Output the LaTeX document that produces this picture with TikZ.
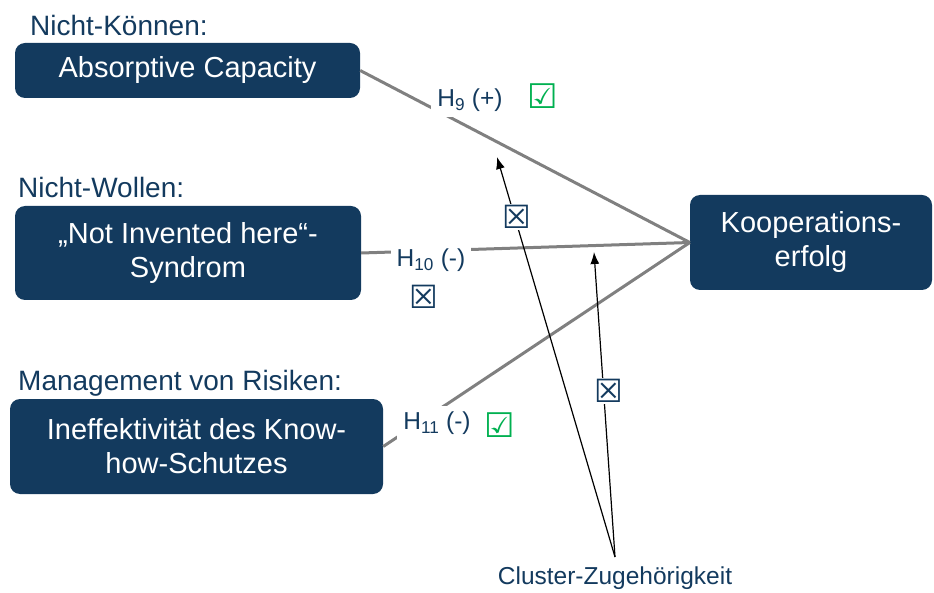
\documentclass[tikz,border=0pt]{standalone}
\usepackage{fontspec}
\setmainfont{Liberation Sans}
\newfontfamily\symfont{DejaVu Sans}
\usetikzlibrary{positioning, calc, arrows.meta}
\definecolor{navy}{HTML}{133A5E}
\definecolor{okgreen}{HTML}{00B050}
\tikzset{
  box/.style={fill=navy, rounded corners=10pt, text=white, align=center, inner sep=0pt, font=\fontsize{29}{34}\selectfont},
  head/.style={text=navy, anchor=west, inner sep=0pt, font=\fontsize{28}{32}\selectfont},
  hyp/.style={text=navy, fill=white, inner sep=6pt, font=\fontsize{24.5}{28}\selectfont},
  link/.style={draw=gray, line width=3pt},
  pointer/.style={draw=black, line width=1.2pt, -{Latex[length=12pt,width=9pt]}},
  nope/.style={text=navy, fill=white, inner sep=1pt, font=\symfont\fontsize{32}{36}\selectfont},
  yes/.style={text=okgreen, inner sep=0pt, font=\symfont\fontsize{34}{38}\selectfont}
}
\begin{document}
\begin{tikzpicture}[x=1pt, y=-1pt]
            \useasboundingbox (0,0) rectangle (934,593);
            % Konstrukte
            \node[head] (hkonn) at (30,25) {Nicht-Können:};
            \node[box, minimum width=345pt, minimum height=55pt] (absorb) at (187.5,70.5) {Absorptive Capacity};
            \node[head] (hwoll) at (18,187) {Nicht-Wollen:};
            \node[box, minimum width=346pt, minimum height=94pt] (nih) at (188,253) {„Not Invented here“-\\Syndrom};
            \node[head] (hrisk) at (18,383) {Management von Risiken:};
            \node[box, minimum width=373pt, minimum height=95pt] (ineff) at (196.5,446.5) {Ineffektivität des Know-\\how-Schutzes};
            \node[box, minimum width=242pt, minimum height=95pt] (koop) at (811,242.5) {Kooperations-\\erfolg};
            % Hypothesen
            \draw[link] (absorb.east) -- (koop.west);
            \draw[link] (nih.east) -- (koop.west);
            \draw[link] (ineff.east) -- (koop.west);
            \node[hyp] (h9) at (470,100) {H\textsubscript{9} (+)};
            \node[yes] (ok9) at (543,96) {☑};
            \node[hyp] (h10) at (431,260) {H\textsubscript{10} (-)};
            \node[nope, fill=none] (no10) at (424,297) {☒};
            \node[hyp] (h11) at (437,423) {H\textsubscript{11} (-)};
            \node[yes] (ok11) at (500,425) {☑};
            % Moderator
            \node[text=navy, font=\fontsize{24.5}{28}\selectfont] (cluster) at (615,578) {Cluster-Zugehörigkeit};
            \coordinate (cltop) at (615,557);
            \coordinate (t9) at (497,157);
            \coordinate (t10) at (594,252);
            \draw[pointer] (cltop) -- (t9);
            \draw[pointer] (cltop) -- (t10);
            \node[nope] (no9) at (517,217) {☒};
            \node[nope] (nocl) at (609,391) {☒};
        \end{tikzpicture}
\end{document}
